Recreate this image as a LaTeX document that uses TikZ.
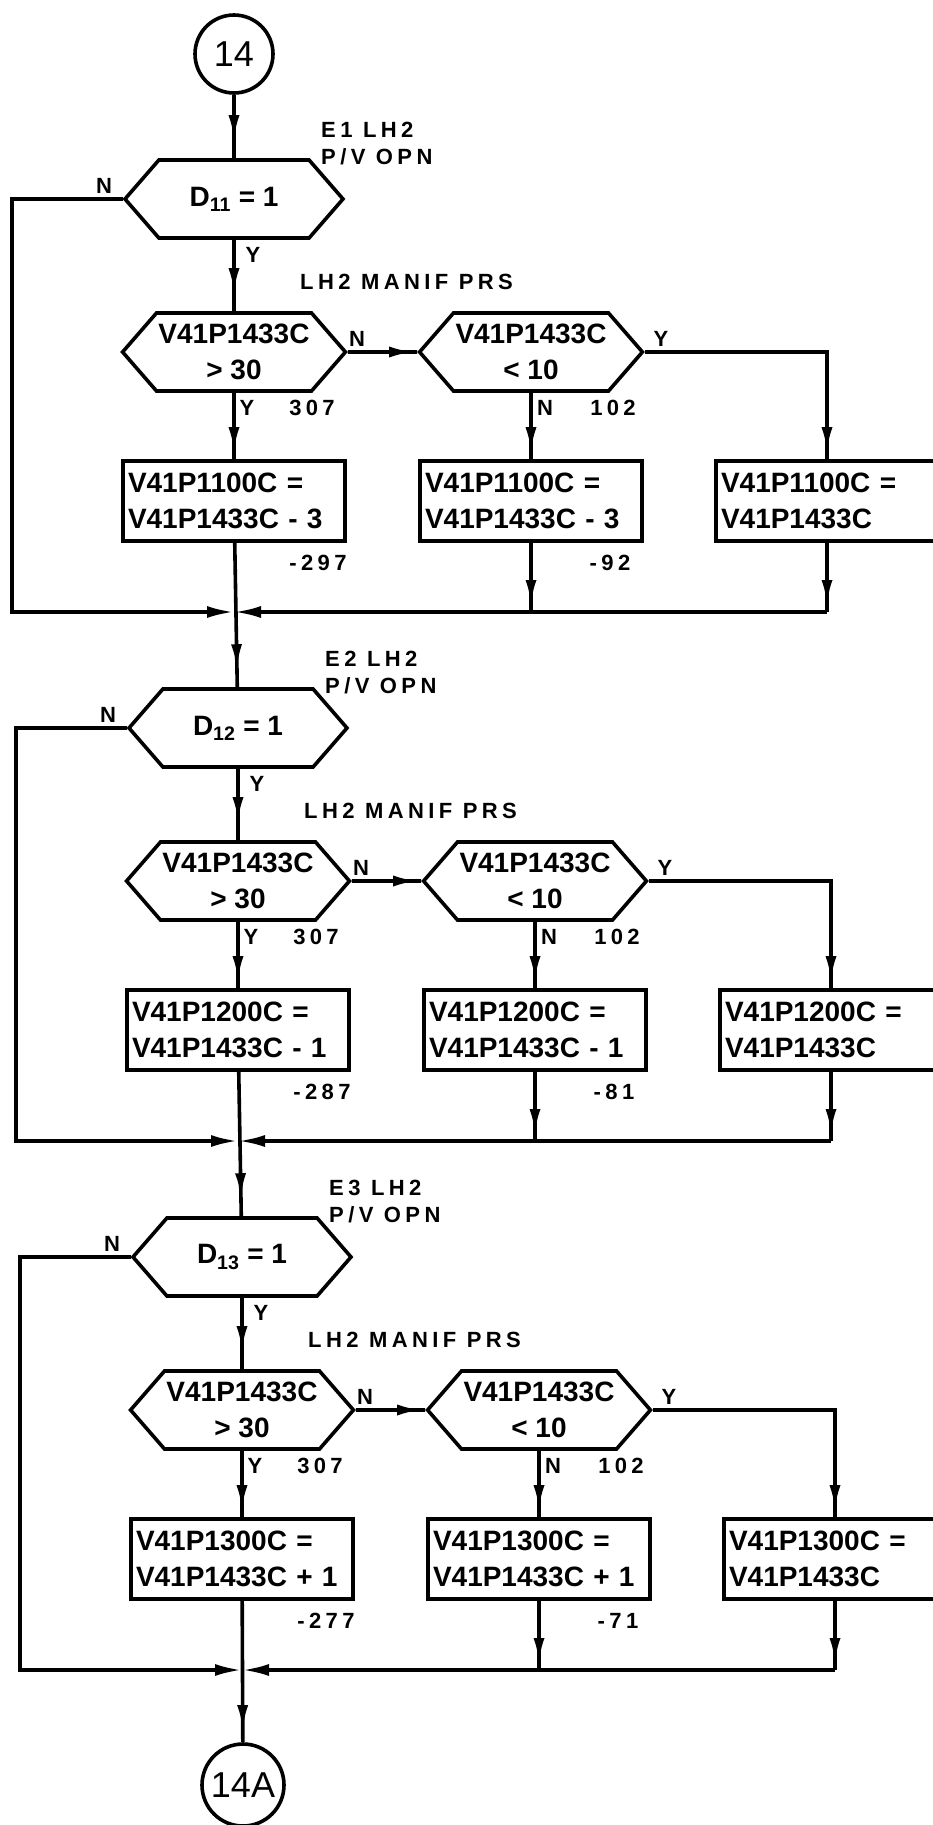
\documentclass[tikz,border=0pt]{standalone}
\usepackage{fontspec}
\setmainfont{Liberation Sans}
\newfontfamily\notefont[LetterSpace=20]{Liberation Sans}
\usetikzlibrary{shapes.symbols,arrows.meta,decorations.markings}

\tikzset{
  wire/.style={line width=3.6pt},
  flow/.style={wire, postaction={decorate}, decoration={markings,
      mark=at position -#1 with {\arrow{Latex[length=25pt,width=11pt]}}}},
  flow/.default=7pt,
  meet/.style={wire, -{Latex[length=27pt,width=12pt]}},
  decide/.style={draw, line width=3.6pt, shape=signal, signal to=east and west,
      signal pointer angle=98, minimum width=218pt, minimum height=78pt,
      inner sep=2pt, align=center, font=\fontsize{28}{36}\selectfont\bfseries},
  assign/.style={draw, line width=3.6pt, rectangle, minimum height=80pt,
      text width=212pt, inner xsep=5pt, align=left,
      font=\fontsize{28}{36}\selectfont\bfseries},
  connector/.style={draw, line width=3.6pt, circle, minimum size=78pt,
      inner sep=0pt, font=\fontsize{36}{40}\selectfont},
  note/.style={inner sep=0pt, font=\fontsize{22}{27}\notefont\bfseries},
}

\begin{document}
\begin{tikzpicture}[x=1pt, y=-1pt]
  \useasboundingbox (0,0) rectangle (933,1825);

  % Entry and exit connectors
  \node[connector] (c14) at (234,54) {14};
  \node[connector, minimum size=82pt] (c14A) at (243,1785) {14A};

  % One block per engine
  \foreach \i/\y/\dx/\op/\na/\nb in {1/199/0/- 3/-297/-92,
      2/728/4/- 1/-287/-81, 3/1257/8/+ 1/-277/-71}
  {
    \begin{scope}[shift={(234+\dx,\y)}]
      % Valve test
      \node[decide] (D\i) at (0,0) {D\textsubscript{1\i} = 1};
      \node[note, anchor=north west, align=left] at (87,-77) {E\i{} LH2\\P/V OPN};
      \node[note] at (-130,-13) {N};
      \node[note] at (19,56) {Y};

      % Manifold pressure tests
      \node[note, anchor=west] at (66,83) {LH2 MANIF PRS};
      \node[decide] (A\i) at (0,153) {V41P1433C\\> 30};
      \node[decide] (B\i) at (297,153) {V41P1433C\\< 10};
      \node[note] at (123,140) {N};
      \node[note] at (427,140) {Y};
      \node[note] at (13,209) {Y};
      \node[note] at (78,209) {307};
      \node[note] at (311,209) {N};
      \node[note] at (379,209) {102};

      % Assignments
      \node[assign] (Ca\i) at (0,302) {V41P1\i00C =\\V41P1433C \op};
      \node[assign] (Cb\i) at (297,302) {V41P1\i00C =\\V41P1433C \op};
      \node[assign] (Cc\i) at (593,302) {V41P1\i00C =\\V41P1433C};
      \node[note] at (84,364) {\na};
      \node[note] at (376,364) {\nb};

      % Junction
      \coordinate (m\i) at (0,413);
      \coordinate (L\i) at (-222,0);

      \draw[flow=18pt] (D\i) -- (A\i);
      \draw[flow=3pt] (A\i) -- (B\i);
      \draw[flow] (A\i) -- (Ca\i);
      \draw[flow] (B\i) -- (Cb\i);
      \draw[flow] (B\i.east) -| (Cc\i.north);
      \draw[flow] (Cb\i) -- (Cb\i |- m\i);
      \draw[flow] (Cc\i) -- (Cc\i |- m\i);
      \draw[meet] (D\i.west) -- (L\i) |- (m\i);
      \draw[meet] (Cc\i |- m\i) -- (m\i);
    \end{scope}
  }

  % Main line
  \draw[flow=18pt] (c14) -- (D1);
  \draw[flow=18pt] (Ca1) -- (D2);
  \draw[flow=18pt] (Ca2) -- (D3);
  \draw[flow=12pt] (Ca3) -- (c14A);
\end{tikzpicture}
\end{document}
